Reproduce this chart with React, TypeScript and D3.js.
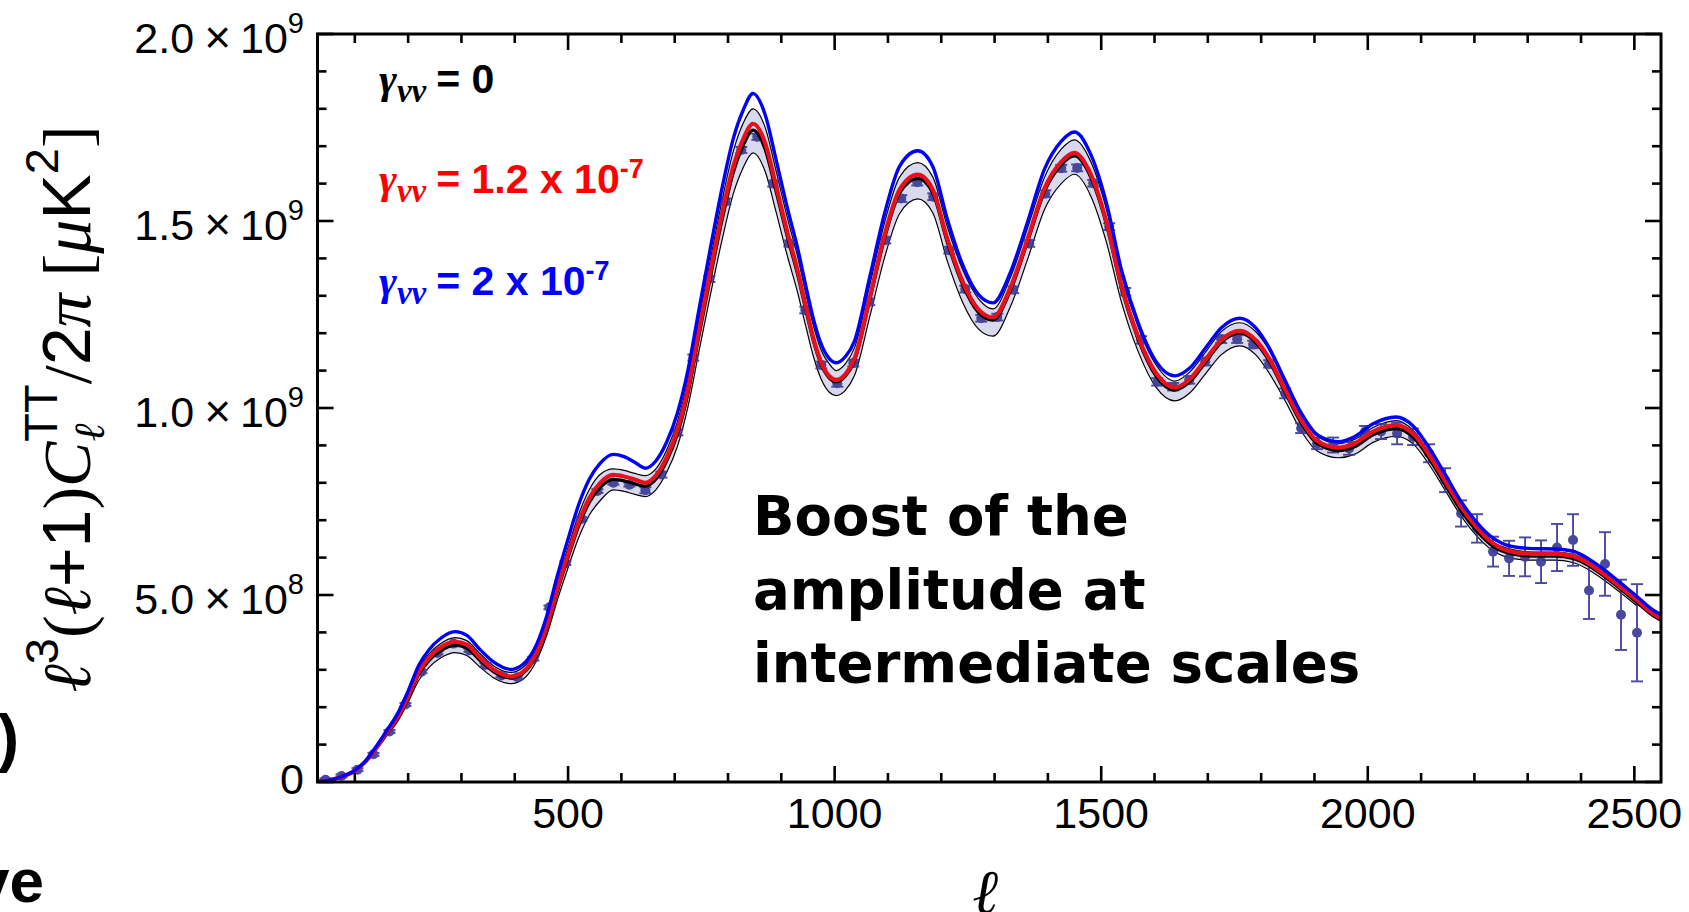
import React from 'react';
import * as d3 from 'd3';

// multipole grid for the theory curves
const ELL = [
  30, 50, 75, 100, 120, 140, 160, 180, 200, 220,
  240, 260, 288, 310, 335, 360, 393, 415, 441, 460,
  480, 500, 520, 540, 560, 585, 605, 625, 645, 665,
  685, 705, 725, 745, 767, 790, 810, 828, 847, 870,
  890, 912, 930, 946, 960, 975, 990, 1003, 1020, 1037,
  1066, 1094, 1122, 1156, 1184, 1212, 1240, 1270, 1297, 1330,
  1362, 1394, 1425, 1450, 1481, 1510, 1538, 1569, 1603, 1638,
  1666, 1697, 1725, 1760, 1790, 1813, 1844, 1875, 1905, 1945,
  1975, 2010, 2053, 2085, 2115, 2145, 2175, 2205, 2235, 2270,
  2310, 2350, 2385, 2415, 2445, 2475, 2505, 2530, 2550,
];

// values in units of 1e9 muK^2
const TT_GAMMA0 = [
  0.001, 0.004, 0.014, 0.030, 0.054, 0.090, 0.130, 0.170, 0.225, 0.288,
  0.326, 0.350, 0.366, 0.358, 0.325, 0.295, 0.278, 0.290, 0.340, 0.410,
  0.510, 0.600, 0.685, 0.748, 0.787, 0.809, 0.805, 0.797, 0.791, 0.810,
  0.858, 0.930, 1.040, 1.190, 1.350, 1.510, 1.630, 1.700, 1.743, 1.690,
  1.580, 1.454, 1.360, 1.262, 1.180, 1.115, 1.080, 1.070, 1.085, 1.125,
  1.290, 1.455, 1.575, 1.614, 1.575, 1.440, 1.330, 1.255, 1.235, 1.315,
  1.445, 1.580, 1.650, 1.674, 1.615, 1.490, 1.320, 1.185, 1.085, 1.048,
  1.070, 1.125, 1.175, 1.200, 1.175, 1.130, 1.045, 0.960, 0.905, 0.886,
  0.896, 0.928, 0.945, 0.922, 0.865, 0.795, 0.725, 0.670, 0.630, 0.610,
  0.604, 0.604, 0.598, 0.578, 0.548, 0.515, 0.480, 0.450, 0.432,
];

const TT_GAMMA12 = [
  0.001, 0.004, 0.014, 0.030, 0.055, 0.091, 0.133, 0.173, 0.230, 0.294,
  0.334, 0.359, 0.375, 0.367, 0.332, 0.301, 0.282, 0.294, 0.345, 0.416,
  0.518, 0.609, 0.695, 0.759, 0.799, 0.821, 0.817, 0.809, 0.800, 0.820,
  0.868, 0.941, 1.052, 1.204, 1.365, 1.527, 1.646, 1.717, 1.760, 1.707,
  1.594, 1.466, 1.371, 1.271, 1.187, 1.121, 1.085, 1.075, 1.090, 1.131,
  1.296, 1.464, 1.584, 1.624, 1.584, 1.449, 1.338, 1.263, 1.242, 1.323,
  1.452, 1.588, 1.658, 1.682, 1.623, 1.497, 1.328, 1.192, 1.093, 1.055,
  1.077, 1.132, 1.181, 1.206, 1.181, 1.137, 1.052, 0.968, 0.912, 0.894,
  0.905, 0.937, 0.954, 0.931, 0.875, 0.805, 0.736, 0.680, 0.638, 0.616,
  0.610, 0.610, 0.604, 0.584, 0.553, 0.520, 0.486, 0.455, 0.437,
];

const TT_GAMMA20 = [
  0.001, 0.004, 0.014, 0.031, 0.056, 0.095, 0.138, 0.182, 0.243, 0.312,
  0.355, 0.383, 0.402, 0.392, 0.354, 0.321, 0.301, 0.314, 0.368, 0.444,
  0.552, 0.650, 0.742, 0.810, 0.852, 0.876, 0.870, 0.855, 0.839, 0.859,
  0.909, 0.986, 1.102, 1.259, 1.428, 1.596, 1.721, 1.795, 1.841, 1.783,
  1.665, 1.531, 1.431, 1.326, 1.239, 1.170, 1.132, 1.121, 1.137, 1.178,
  1.351, 1.522, 1.647, 1.688, 1.646, 1.502, 1.383, 1.303, 1.281, 1.364,
  1.498, 1.640, 1.713, 1.738, 1.676, 1.547, 1.369, 1.229, 1.124, 1.086,
  1.107, 1.163, 1.214, 1.240, 1.214, 1.166, 1.076, 0.987, 0.929, 0.910,
  0.923, 0.958, 0.976, 0.952, 0.894, 0.823, 0.750, 0.693, 0.652, 0.630,
  0.624, 0.623, 0.617, 0.596, 0.566, 0.531, 0.496, 0.465, 0.447,
];

// 1-sigma band around the gamma = 0 model (same grid, up to l = 2505)
const BAND_LO = [
  0.001, 0.004, 0.013, 0.028, 0.051, 0.085, 0.123, 0.161, 0.213, 0.272,
  0.308, 0.331, 0.346, 0.338, 0.307, 0.279, 0.263, 0.274, 0.325, 0.392,
  0.487, 0.573, 0.654, 0.714, 0.752, 0.781, 0.777, 0.769, 0.763, 0.782,
  0.828, 0.897, 1.004, 1.148, 1.303, 1.457, 1.573, 1.641, 1.682, 1.631,
  1.525, 1.403, 1.312, 1.218, 1.139, 1.076, 1.042, 1.033, 1.047, 1.086,
  1.245, 1.404, 1.520, 1.559, 1.522, 1.390, 1.283, 1.211, 1.192, 1.272,
  1.398, 1.532, 1.600, 1.625, 1.565, 1.442, 1.283, 1.152, 1.055, 1.019,
  1.040, 1.094, 1.142, 1.166, 1.142, 1.098, 1.022, 0.939, 0.885, 0.867,
  0.876, 0.908, 0.924, 0.904, 0.849, 0.780, 0.711, 0.657, 0.618, 0.598,
  0.593, 0.593, 0.587, 0.567, 0.538, 0.505, 0.471,
];

const BAND_HI = [
  0.001, 0.004, 0.015, 0.032, 0.057, 0.095, 0.137, 0.179, 0.237, 0.304,
  0.344, 0.369, 0.386, 0.378, 0.343, 0.311, 0.293, 0.306, 0.355, 0.428,
  0.533, 0.627, 0.716, 0.782, 0.822, 0.837, 0.833, 0.825, 0.819, 0.838,
  0.888, 0.963, 1.076, 1.232, 1.397, 1.563, 1.687, 1.760, 1.800, 1.749,
  1.635, 1.505, 1.408, 1.306, 1.221, 1.154, 1.118, 1.100, 1.118, 1.160,
  1.330, 1.498, 1.618, 1.656, 1.618, 1.482, 1.370, 1.292, 1.265, 1.350,
  1.482, 1.618, 1.692, 1.717, 1.657, 1.530, 1.357, 1.218, 1.115, 1.072,
  1.096, 1.152, 1.204, 1.228, 1.204, 1.160, 1.068, 0.981, 0.925, 0.905,
  0.916, 0.948, 0.966, 0.940, 0.881, 0.810, 0.739, 0.683, 0.642, 0.622,
  0.615, 0.615, 0.609, 0.589, 0.558, 0.525, 0.489,
];

// binned measurements
const DATA_ELL = [
  45, 75, 105, 135, 165, 195, 225, 255, 285, 315,
  345, 375, 405, 435, 465, 495, 525, 555, 585, 615,
  645, 675, 705, 735, 765, 795, 825, 855, 885, 915,
  945, 975, 1005, 1035, 1065, 1095, 1125, 1155, 1185, 1215,
  1245, 1275, 1305, 1335, 1365, 1395, 1425, 1455, 1485, 1515,
  1545, 1575, 1605, 1635, 1665, 1695, 1725, 1755, 1785, 1815,
  1845, 1875, 1905, 1935, 1965, 1995, 2025, 2055, 2085, 2115,
  2145, 2175, 2205, 2235, 2265, 2295, 2325, 2355, 2385, 2415,
  2445, 2475, 2505,
];

const DATA_VAL = [
  0.006, 0.016, 0.033, 0.074, 0.135, 0.207, 0.295, 0.345, 0.370, 0.352,
  0.313, 0.285, 0.280, 0.330, 0.467, 0.585, 0.703, 0.778, 0.800, 0.795,
  0.780, 0.822, 0.935, 1.135, 1.345, 1.552, 1.690, 1.725, 1.600, 1.440,
  1.262, 1.115, 1.066, 1.120, 1.284, 1.449, 1.560, 1.604, 1.565, 1.422,
  1.318, 1.240, 1.243, 1.316, 1.440, 1.573, 1.641, 1.642, 1.601, 1.485,
  1.311, 1.182, 1.070, 1.057, 1.075, 1.124, 1.184, 1.184, 1.170, 1.118,
  1.039, 0.946, 0.905, 0.901, 0.892, 0.937, 0.937, 0.932, 0.923, 0.879,
  0.807, 0.718, 0.678, 0.616, 0.598, 0.602, 0.589, 0.627, 0.647, 0.512,
  0.583, 0.447, 0.399,
];

const DATA_ERR = [
  0.004, 0.004, 0.004, 0.004, 0.004, 0.004, 0.004, 0.004, 0.004, 0.004,
  0.005, 0.005, 0.005, 0.005, 0.005, 0.005, 0.005, 0.005, 0.005, 0.005,
  0.008, 0.008, 0.008, 0.008, 0.008, 0.008, 0.008, 0.008, 0.008, 0.008,
  0.009, 0.009, 0.009, 0.009, 0.009, 0.009, 0.009, 0.009, 0.009, 0.009,
  0.009, 0.009, 0.009, 0.009, 0.009, 0.009, 0.009, 0.009, 0.009, 0.009,
  0.010, 0.010, 0.010, 0.010, 0.010, 0.010, 0.010, 0.010, 0.010, 0.010,
  0.013, 0.013, 0.015, 0.020, 0.017, 0.015, 0.020, 0.029, 0.022, 0.024,
  0.032, 0.035, 0.038, 0.040, 0.047, 0.052, 0.057, 0.063, 0.069, 0.076,
  0.085, 0.094, 0.130,
];

const X_TICK_LABELS = [500, 1000, 1500, 2000, 2500];
const Y_TICK_VALUES = [0, 0.5, 1.0, 1.5, 2.0];
const Y_TICK_MANTISSA = ['0', '5.0', '1.0', '1.5', '2.0'];
const Y_TICK_EXPONENT = ['', '8', '9', '9', '9'];

const LEGEND_VALUES = ['0', '1.2 x 10', '2 x 10'];
const LEGEND_EXPONENTS = ['', '-7', '-7'];
const ANNOTATION_LINES = ['Boost of the', 'amplitude at', 'intermediate scales'];

// styles
const SERIES_COLORS = ['#000000', '#ff0000', '#0000ff'];
const RED_LINE = '#e8101c';
const DATA_COLOR = '#3a3a96';
const BAND_FILL = '#d9d9ee';

export default function App() {
  React.useEffect(() => {
    document.body.style.margin = '0';
    document.body.style.overflow = 'hidden';
  }, []);

  const W = 1689;
  const H = 912;
  const L = 317.5;
  const R = 1661;
  const T = 34;
  const B = 782;

  const x = d3.scaleLinear().domain([30, 2550]).range([L, R]);
  const y = d3.scaleLinear().domain([0, 2]).range([B, T]);

  const line = (vals: number[]) =>
    d3
      .line<number>()
      .x((_, i) => x(ELL[i]))
      .y((d) => y(d))
      .curve(d3.curveMonotoneX)(vals) as string;

  const bandArea = d3
    .area<number>()
    .x((_, i) => x(ELL[i]))
    .y0((_, i) => y(BAND_LO[i]))
    .y1((d) => y(d))
    .curve(d3.curveMonotoneX)(BAND_HI) as string;

  const xTicks = x.ticks(25);
  const yTicks = y.ticks(20);
  const major = 16;
  const minor = 9;
  const isMajorX = (t: number) => Math.abs(t % 500) < 1e-6;
  const isMajorY = (t: number) => Math.abs((t * 10) % 5) < 1e-6;

  const sans = 'Liberation Sans, Arial, Helvetica, sans-serif';
  const serif = 'Liberation Serif, DejaVu Serif, Times New Roman, serif';
  const legendY = [92.7, 193.3, 295];

  return (
    <svg
      width={W}
      height={H}
      viewBox={`0 0 ${W} ${H}`}
      style={{ position: 'absolute', left: 0, top: 0, background: '#fff' }}
    >
      <defs>
        <clipPath id="plotclip">
          <rect x={L} y={T} width={R - L} height={B - T} />
        </clipPath>
      </defs>
      <rect x={0} y={0} width={W} height={H} fill="#fff" />

      {/* cropped neighbouring text */}
      <text x={19} y={760} textAnchor="end" fontFamily={sans} fontWeight="bold" fontSize={64}>)</text>
      <text x={44} y={902} textAnchor="end" fontFamily={sans} fontWeight="bold" fontSize={62}>ve</text>

      <g clipPath="url(#plotclip)">
        <path d={bandArea} fill={BAND_FILL} stroke="none" />
        <path d={line(BAND_HI)} fill="none" stroke="#000" strokeWidth={1.2} />
        <path d={line(BAND_LO)} fill="none" stroke="#000" strokeWidth={1.2} />
        {DATA_ELL.map((l, i) => {
          const cx = x(l);
          const cy = y(DATA_VAL[i]);
          const y0 = y(DATA_VAL[i] - DATA_ERR[i]);
          const y1 = y(DATA_VAL[i] + DATA_ERR[i]);
          return (
            <g key={i} stroke={DATA_COLOR} fill={DATA_COLOR} opacity={0.92}>
              <line x1={cx} x2={cx} y1={y0} y2={y1} strokeWidth={1.9} />
              <line x1={cx - 6} x2={cx + 6} y1={y0} y2={y0} strokeWidth={1.9} />
              <line x1={cx - 6} x2={cx + 6} y1={y1} y2={y1} strokeWidth={1.9} />
              <circle cx={cx} cy={cy} r={5} stroke="none" />
            </g>
          );
        })}
        <path d={line(TT_GAMMA0)} fill="none" stroke="#000" strokeWidth={3.2} />
        <path d={line(TT_GAMMA12)} fill="none" stroke={RED_LINE} strokeWidth={4.2} />
        <path d={line(TT_GAMMA20)} fill="none" stroke="#0000ff" strokeWidth={3.4} />
      </g>

      {/* frame */}
      <rect x={L} y={T} width={R - L} height={B - T} fill="none" stroke="#000" strokeWidth={3} />
      {xTicks.map((t) => {
        const len = isMajorX(t) ? major : minor;
        return (
          <g key={'xt' + t} stroke="#000" strokeWidth={2.6}>
            <line x1={x(t)} x2={x(t)} y1={B} y2={B - len} />
            <line x1={x(t)} x2={x(t)} y1={T} y2={T + len} />
          </g>
        );
      })}
      {yTicks.map((t) => {
        const len = isMajorY(t) ? major : minor;
        return (
          <g key={'yt' + t} stroke="#000" strokeWidth={2.6}>
            <line x1={L} x2={L + len} y1={y(t)} y2={y(t)} />
            <line x1={R} x2={R - len} y1={y(t)} y2={y(t)} />
          </g>
        );
      })}

      {/* x tick labels */}
      {X_TICK_LABELS.map((t) => (
        <text key={'xl' + t} x={x(t)} y={828} textAnchor="middle" fontFamily={sans} fontSize={43}>
          {t}
        </text>
      ))}

      {/* y tick labels */}
      {Y_TICK_VALUES.map((v, i) =>
        Y_TICK_EXPONENT[i] === '' ? (
          <text key={'yl' + i} x={304} y={y(v) + 11.5} textAnchor="end" fontFamily={sans} fontSize={43}>
            {Y_TICK_MANTISSA[i]}
          </text>
        ) : (
          <text key={'yl' + i} x={304} y={y(v) + 18.5} textAnchor="end" fontFamily={sans} fontSize={43}>
            {Y_TICK_MANTISSA[i]}
            <tspan dx={10} fontSize={46}>×</tspan>
            <tspan dx={9}>10</tspan>
            <tspan fontSize={29} dy={-19.5}>{Y_TICK_EXPONENT[i]}</tspan>
          </text>
        )
      )}

      {/* x axis title */}
      <text x={(L + R) / 2 - 4} y={913} textAnchor="middle" fontFamily={serif} fontStyle="italic" fontSize={62}>
        ℓ
      </text>

      {/* y axis title */}
      <text transform={`translate(90,${(T + B) / 2 + 1}) rotate(-90)`} textAnchor="middle" fontSize={68} fontFamily={sans}>
        <tspan fontFamily={serif} fontStyle="italic">ℓ</tspan>
        <tspan fontSize={47} dy={-32}>3</tspan>
        <tspan fontFamily={serif} dy={32}>(</tspan>
        <tspan fontFamily={serif} fontStyle="italic">ℓ</tspan>
        <tspan>+1</tspan>
        <tspan fontFamily={serif}>)</tspan>
        <tspan fontFamily={serif} fontStyle="italic">C</tspan>
        <tspan fontFamily={serif} fontStyle="italic" fontSize={43} dy={14}>ℓ</tspan>
        <tspan fontSize={47} dx={-18} dy={-47}>TT</tspan>
        <tspan fontFamily={serif} dy={33}>/</tspan>
        <tspan>2</tspan>
        <tspan fontFamily={serif} fontStyle="italic">π</tspan>
        <tspan fontFamily={serif}> [</tspan>
        <tspan fontFamily={serif} fontStyle="italic">μ</tspan>
        <tspan>K</tspan>
        <tspan fontSize={47} dy={-32}>2</tspan>
        <tspan fontFamily={serif} dy={32}>]</tspan>
      </text>

      {/* legend */}
      {LEGEND_VALUES.map((lab, i) => (
        <text key={'lg' + i} x={379} y={legendY[i]} fill={SERIES_COLORS[i]} fontWeight="bold">
          <tspan fontFamily={serif} fontStyle="italic" fontSize={43}>γ</tspan>
          <tspan fontFamily={serif} fontStyle="italic" fontSize={33} dy={9}>νν</tspan>
          <tspan fontFamily={sans} fontSize={41} dy={-9} dx={10}>= {lab}</tspan>
          {LEGEND_EXPONENTS[i] !== '' && (
            <tspan fontFamily={sans} fontSize={27} dy={-15}>{LEGEND_EXPONENTS[i]}</tspan>
          )}
        </text>
      ))}

      {/* annotation */}
      {ANNOTATION_LINES.map((s, i) => (
        <text
          key={'an' + i}
          x={753}
          y={535 + i * 73.5}
          fontFamily="DejaVu Sans, sans-serif"
          fontWeight="bold"
          fontSize={54.5}
        >
          {s}
        </text>
      ))}
    </svg>
  );
}
